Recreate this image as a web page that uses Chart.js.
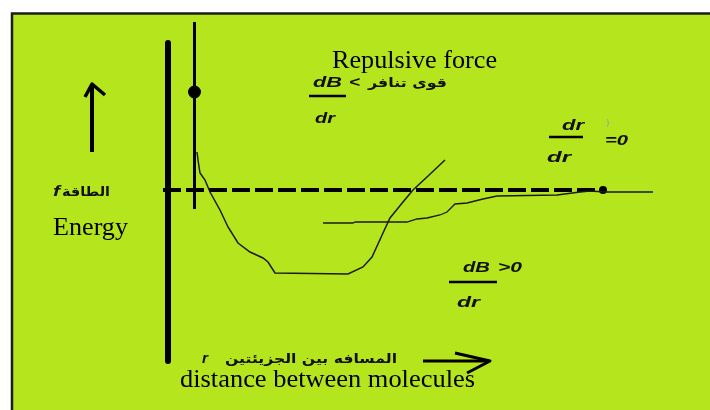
<!DOCTYPE html>
<html>
<head>
<meta charset="utf-8">
<script src="https://cdn.jsdelivr.net/npm/chart.js@4.4.1/dist/chart.umd.min.js"></script>
<style>
  html, body { margin: 0; padding: 0; background: #fff; }
  #chart { display: block; }
</style>
</head>
<body>
<canvas id="chart" width="710" height="410"></canvas>
<script>
// distance r and energy (arbitrary units, zero energy = dashed line)
const wellR = [2.9, 3.0, 3.2, 3.7, 4.2, 5.2, 6.0, 7.0, 8.2, 9.5, 10.0, 10.7, 18.0, 19.5, 20.4, 21.5, 22.2, 23.5, 24.5, 25.9, 27.7];
const wellE = [3.8, 3.0, 1.7, 1.0, -0.2, -2.0, -3.7, -5.3, -6.2, -6.8, -7.2, -8.3, -8.4, -7.7, -6.7, -4.3, -2.8, -1.2, 0.0, 1.3, 3.0];
const tailR = [15.5, 18.5, 18.7, 23.9, 24.9, 25.9, 27.2, 27.9, 28.7, 29.9, 31.5, 32.9, 38.9, 41.2, 42.2, 43.7, 48.5];
const tailE = [-3.3, -3.3, -3.2, -3.2, -2.9, -2.8, -2.5, -2.2, -1.4, -1.3, -0.9, -0.6, -0.5, -0.2, -0.1, -0.2, -0.2];
const zeroR = [-0.5, 43.5];
const axisE = [14.7, -17.1];
const markR = 2.65;
const markE = [16.8, -1.9];
const markDotE = 9.8;

const pts = (xs, ys) => xs.map((x, i) => ({ x: x, y: ys[i] }));

const backdrop = {
  id: "backdrop",
  beforeDraw(chart) {
    const c = chart.ctx;
    c.save();
    c.fillStyle = "#fff";
    c.fillRect(0, 0, chart.width, chart.height);
    c.fillStyle = "#b5e61d";
    c.fillRect(12, 13, chart.width, chart.height);
    c.strokeStyle = "#1c1c1c";
    c.lineWidth = 2.5;
    c.strokeRect(12, 13.5, chart.width + 20, chart.height + 20);
    c.restore();
  },
};

// draw text squeezed/stretched to a given width
function fitText(c, text, x, y, w, font) {
  c.font = font;
  const m = c.measureText(text).width;
  c.save();
  c.translate(x, y);
  c.scale(w / m, 1);
  c.fillText(text, 0, 0);
  c.restore();
}

function stroke(c, pts, width) {
  c.lineWidth = width;
  c.beginPath();
  c.moveTo(pts[0][0], pts[0][1]);
  for (let i = 1; i < pts.length; i++) c.lineTo(pts[i][0], pts[i][1]);
  c.stroke();
}

const serif = "26px 'Liberation Serif'";
const small = "italic bold 14px 'Liberation Sans'";
const arabic = "bold 13px 'DejaVu Sans'";

const notes = {
  id: "notes",
  afterDatasetsDraw(chart) {
    const c = chart.ctx;
    c.save();
    c.fillStyle = "#000";
    c.textAlign = "left";
    c.textBaseline = "alphabetic";
    fitText(c, "Repulsive force", 332, 68, 165, serif);
    fitText(c, "Energy", 53, 235, 75, serif);
    fitText(c, "distance between molecules", 180, 387, 295, serif);

    c.fillStyle = "#111";
    fitText(c, "dB", 313, 87, 29, small);
    fitText(c, "<", 349, 87, 11, small);
    fitText(c, "قوى تنافر", 368, 87, 79, arabic);
    fitText(c, "dr", 315, 123, 20, small);
    fitText(c, "dr", 562, 130, 22, small);
    fitText(c, "dr", 547, 162, 24, small);
    fitText(c, "=0", 605, 145, 23, small);
    fitText(c, "dB", 463, 272, 27, small);
    fitText(c, ">0", 498, 272, 24, small);
    fitText(c, "dr", 457, 307, 23, small);
    fitText(c, "f", 53, 196, 7, small);
    fitText(c, "الطاقة", 62, 196, 48, arabic);
    fitText(c, "r", 202, 363, 6, small);
    fitText(c, "المسافه بين الجزيئتين", 225, 363, 172, arabic);
    c.fillStyle = "#7ab";
    c.font = "9px 'DejaVu Sans'";
    c.fillText(")", 606, 126);

    c.strokeStyle = "#000";
    c.lineCap = "butt";
    stroke(c, [[309, 96], [346, 96]], 2.5);
    stroke(c, [[549, 137], [583, 137]], 2.5);
    stroke(c, [[449, 282], [497, 282]], 2.5);

    // arrows
    stroke(c, [[92, 152], [92, 85]], 4);
    c.lineJoin = "round";
    stroke(c, [[85, 97], [92, 84], [105, 95]], 3.5);
    stroke(c, [[423, 361], [489, 361]], 3);
    stroke(c, [[455, 353], [490, 361], [467, 373]], 3);
    c.restore();
  },
};

new Chart(document.getElementById("chart"), {
  type: "scatter",
  data: {
    datasets: [
      {
        data: pts(wellR, wellE),
        showLine: true,
        borderColor: "#1a1a1a",
        borderWidth: 1.5,
        pointRadius: 0,
      },
      {
        data: pts(tailR, tailE),
        showLine: true,
        borderColor: "#1a1a1a",
        borderWidth: 1.3,
        pointRadius: 0,
      },
      {
        data: pts(zeroR, [0, 0]),
        showLine: true,
        borderColor: "#000",
        borderWidth: 4,
        borderDash: [18, 5],
        pointRadius: (ctx) => (ctx.dataIndex === 1 ? 4 : 0),
        pointBackgroundColor: "#000",
        pointBorderWidth: 0,
      },
      {
        data: pts([0, 0], axisE),
        showLine: true,
        borderColor: "#000",
        borderWidth: 6,
        borderCapStyle: "round",
        pointRadius: 0,
      },
      {
        data: pts([markR, markR], markE),
        showLine: true,
        borderColor: "#000",
        borderWidth: 3,
        pointRadius: 0,
      },
      {
        data: [{ x: markR, y: markDotE }],
        pointRadius: 4,
        pointBorderWidth: 5,
        pointBorderColor: "#000",
        pointBackgroundColor: "#eee",
      },
    ],
  },
  options: {
    responsive: false,
    animation: false,
    layout: { padding: 0, autoPadding: false },
    scales: {
      x: { type: "linear", display: false, min: -16.8, max: 54.2 },
      y: { type: "linear", display: false, min: -22, max: 19 },
    },
    plugins: {
      legend: { display: false },
      tooltip: { enabled: false },
    },
  },
  plugins: [backdrop, notes],
});
</script>
</body>
</html>
